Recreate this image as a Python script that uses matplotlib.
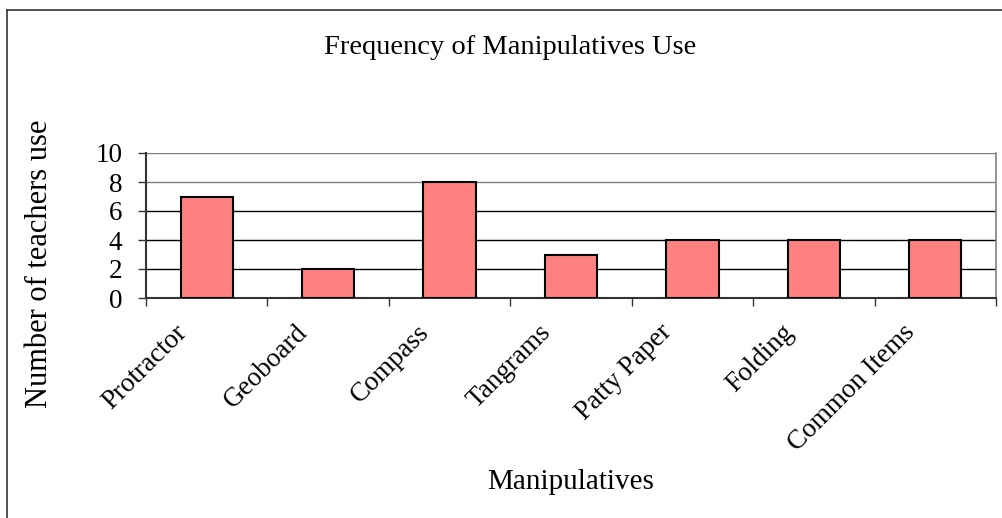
import matplotlib.pyplot as plt
import matplotlib.transforms as mtransforms
from matplotlib.lines import Line2D

categories = ['Protractor', 'Geoboard', 'Compass', 'Tangrams', 'Patty Paper', 'Folding', 'Common Items']
teachers = [7, 2, 8, 3, 4, 4, 4]
y_ticks = [0, 2, 4, 6, 8, 10]

plt.rcParams['font.family'] = ['Liberation Serif', 'DejaVu Serif']

W, H = 1002, 518
fig = plt.figure(figsize=(W / 100, H / 100), dpi=100)
ax = fig.add_axes([146 / W, 1 - 298 / H, 850 / W, 145 / H])

x = list(range(len(categories)))
ax.bar(x, teachers, width=0.43, color='#FF8080', edgecolor='black', linewidth=1.5, zorder=3)

ax.set_xlim(-0.5, len(categories) - 0.5)
ax.set_ylim(0, 10)
ax.set_yticks(y_ticks)
ax.tick_params(axis='y', direction='out', length=6, width=1, color='#333333', pad=11, labelsize=19.5)

# category labels sit between boundary ticks
ax.set_xticks(x, categories)
ax.set_xticks([i - 0.5 for i in range(len(categories) + 1)], minor=True)
ax.tick_params(axis='x', which='major', length=0, pad=22, labelsize=19.5)
ax.tick_params(axis='x', which='minor', direction='out', length=6, width=1, color='#333333')
shift = mtransforms.ScaledTranslation(-0.24, 0, fig.dpi_scale_trans)
for lab in ax.get_xticklabels():
    lab.set_rotation(45)
    lab.set_ha('right')
    lab.set_va('center')
    lab.set_rotation_mode('anchor')
    lab.set_transform(lab.get_transform() + shift)

ax.yaxis.grid(True, linewidth=1, zorder=0)
for val, gl in zip(y_ticks, ax.get_ygridlines()):
    gl.set_color('#808080' if val >= 8 else 'black')

ax.spines['left'].set_color('#333333')
ax.spines['left'].set_linewidth(1.5)
ax.spines['bottom'].set_color('#333333')
ax.spines['bottom'].set_linewidth(1.5)
ax.spines['right'].set_color('#808080')
ax.spines['right'].set_linewidth(1.2)
ax.spines['top'].set_visible(False)

fig.text(510 / W, 1 - 47 / H, 'Frequency of Manipulatives Use', ha='center', va='center', fontsize=20.5)
fig.text(40 / W, 1 - 264 / H, 'Number of teachers use', ha='center', va='center', rotation=90, fontsize=22)
fig.text(571 / W, 1 - 482 / H, 'Manipulatives', ha='center', va='center', fontsize=21)

# outer chart frame (cut off at right and bottom)
fig.add_artist(Line2D([7 / W, 7 / W], [0, 1 - 10 / H], color='#333333', linewidth=1.2))
fig.add_artist(Line2D([7 / W, 1], [1 - 10 / H, 1 - 10 / H], color='#333333', linewidth=1.2))

fig.savefig('out.png', dpi=100)
